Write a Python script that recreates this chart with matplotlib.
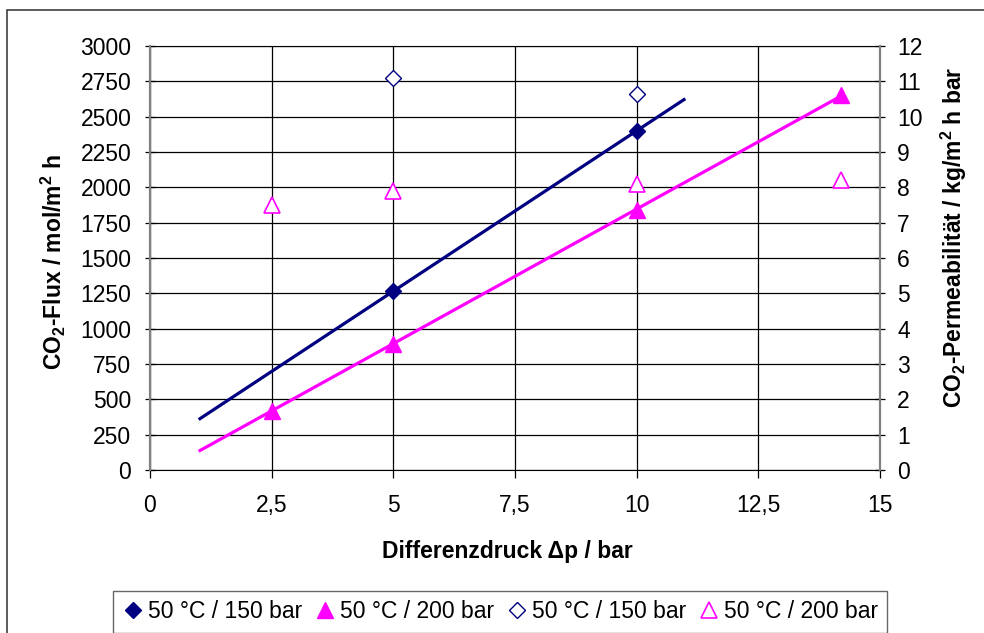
import numpy as np
import matplotlib
matplotlib.use("Agg")
import matplotlib.pyplot as plt
from matplotlib.patches import Rectangle
from matplotlib.ticker import FixedLocator, FuncFormatter

plt.rcParams['font.family'] = ['Liberation Sans', 'DejaVu Sans']
plt.rcParams['mathtext.fontset'] = 'custom'
plt.rcParams['mathtext.rm'] = 'Liberation Sans'
plt.rcParams['mathtext.bf'] = 'Liberation Sans:bold'

# ---- data ----
flux150_x = [5, 10]
flux150_y = [1265, 2400]
flux200_x = [2.5, 5, 10, 14.2]
flux200_y = [420, 895, 1840, 2650]
perm150_x = [5, 10]
perm150_y = [11.1, 10.65]
perm200_x = [2.5, 5, 10, 14.2]
perm200_y = [7.5, 7.9, 8.1, 8.2]
trend150_range = [1, 11]
trend200_range = [1, 14.2]
legend_labels = ['50 °C / 150 bar', '50 °C / 200 bar', '50 °C / 150 bar', '50 °C / 200 bar']
x_ticks = [0, 2.5, 5, 7.5, 10, 12.5, 15]
y_ticks = list(range(0, 3001, 250))
y2_ticks = list(range(0, 13))

NAVY = '#000080'
MAG = '#FF00FF'
FS = 16.5

fig = plt.figure(figsize=(9.84, 6.33), dpi=100)
W, H = 984, 633
ax = fig.add_axes([150 / W, (H - 470) / H, 730 / W, 424 / H])
ax2 = ax.twinx()

# outer chart frame
fig.patches.append(Rectangle((7 / W, -0.1), 1.2, (H - 10) / H + 0.1, transform=fig.transFigure,
                             fill=False, edgecolor='#404040', linewidth=1.2, zorder=0))

# trendlines
for xs, ys, rng, col in [(flux150_x, flux150_y, trend150_range, NAVY),
                         (flux200_x, flux200_y, trend200_range, MAG)]:
    k, d = np.polyfit(xs, ys, 1)
    xx = np.array(rng)
    ax.plot(xx, k * xx + d, color=col, linewidth=2.3, solid_capstyle='butt', zorder=3)

h1, = ax.plot(flux150_x, flux150_y, linestyle='none', marker='D', markersize=8.5,
              color=NAVY, zorder=4)
h2, = ax.plot(flux200_x, flux200_y, linestyle='none', marker='^', markersize=11,
              color=MAG, zorder=4)
h3, = ax2.plot(perm150_x, perm150_y, linestyle='none', marker='D', markersize=8.5,
               markerfacecolor='white', markeredgecolor=NAVY, markeredgewidth=1.0, zorder=4)
h4, = ax2.plot(perm200_x, perm200_y, linestyle='none', marker='^', markersize=11,
               markerfacecolor='white', markeredgecolor=MAG, markeredgewidth=1.2, zorder=4)

ax.set_xlim(0, 15)
ax.set_ylim(0, 3000)
ax2.set_ylim(0, 12)
ax.xaxis.set_major_locator(FixedLocator(x_ticks))
ax.xaxis.set_major_formatter(FuncFormatter(lambda v, p: (('%g' % v).replace('.', ','))))
ax.yaxis.set_major_locator(FixedLocator(y_ticks))
ax2.yaxis.set_major_locator(FixedLocator(y2_ticks))

ax.grid(True, color='black', linewidth=0.9)
ax.set_axisbelow(True)

for sp in ['left', 'right']:
    ax.spines[sp].set_color('#808080')
    ax.spines[sp].set_linewidth(1.5)
    ax2.spines[sp].set_color('#808080')
    ax2.spines[sp].set_linewidth(1.5)
ax.spines['top'].set_color('black')
ax.spines['bottom'].set_color('black')
ax2.spines['top'].set_visible(False)
ax2.spines['bottom'].set_visible(False)

ax.tick_params(axis='x', direction='out', length=6, width=0.9, pad=11, labelsize=FS)
ax.tick_params(axis='y', direction='inout', length=7, width=0.9, pad=10, labelsize=FS)
ax2.tick_params(axis='y', direction='inout', length=7, width=0.9, pad=9, labelsize=FS)

ax.set_xlabel('Differenzdruck Δp / bar', fontsize=FS, fontweight='bold')
ax.xaxis.set_label_coords(0.49, -0.165)
ax.set_ylabel(r'CO$_\mathbf{2}$-Flux / mol/m$^\mathbf{2}$ h', fontsize=FS, fontweight='bold')
ax.yaxis.set_label_coords(-0.112, 0.49)
ax2.set_ylabel(r'CO$_\mathbf{2}$-Permeabilität / kg/m$^\mathbf{2}$ h bar', fontsize=FS,
               fontweight='bold')
ax2.yaxis.set_label_coords(1.081, 0.55)
ax2.yaxis.label.set_rotation(90)

leg = fig.legend([h1, h2, h3, h4], legend_labels, loc='center',
                 bbox_to_anchor=(500 / W, (H - 612) / H), ncol=4, fontsize=FS,
                 frameon=True, fancybox=False, handletextpad=0.15, columnspacing=0.5,
                 handlelength=1.0, borderpad=0.4, borderaxespad=0)
leg.get_frame().set_edgecolor('#404040')
leg.get_frame().set_linewidth(1.0)

fig.savefig('out.png', dpi=100)
